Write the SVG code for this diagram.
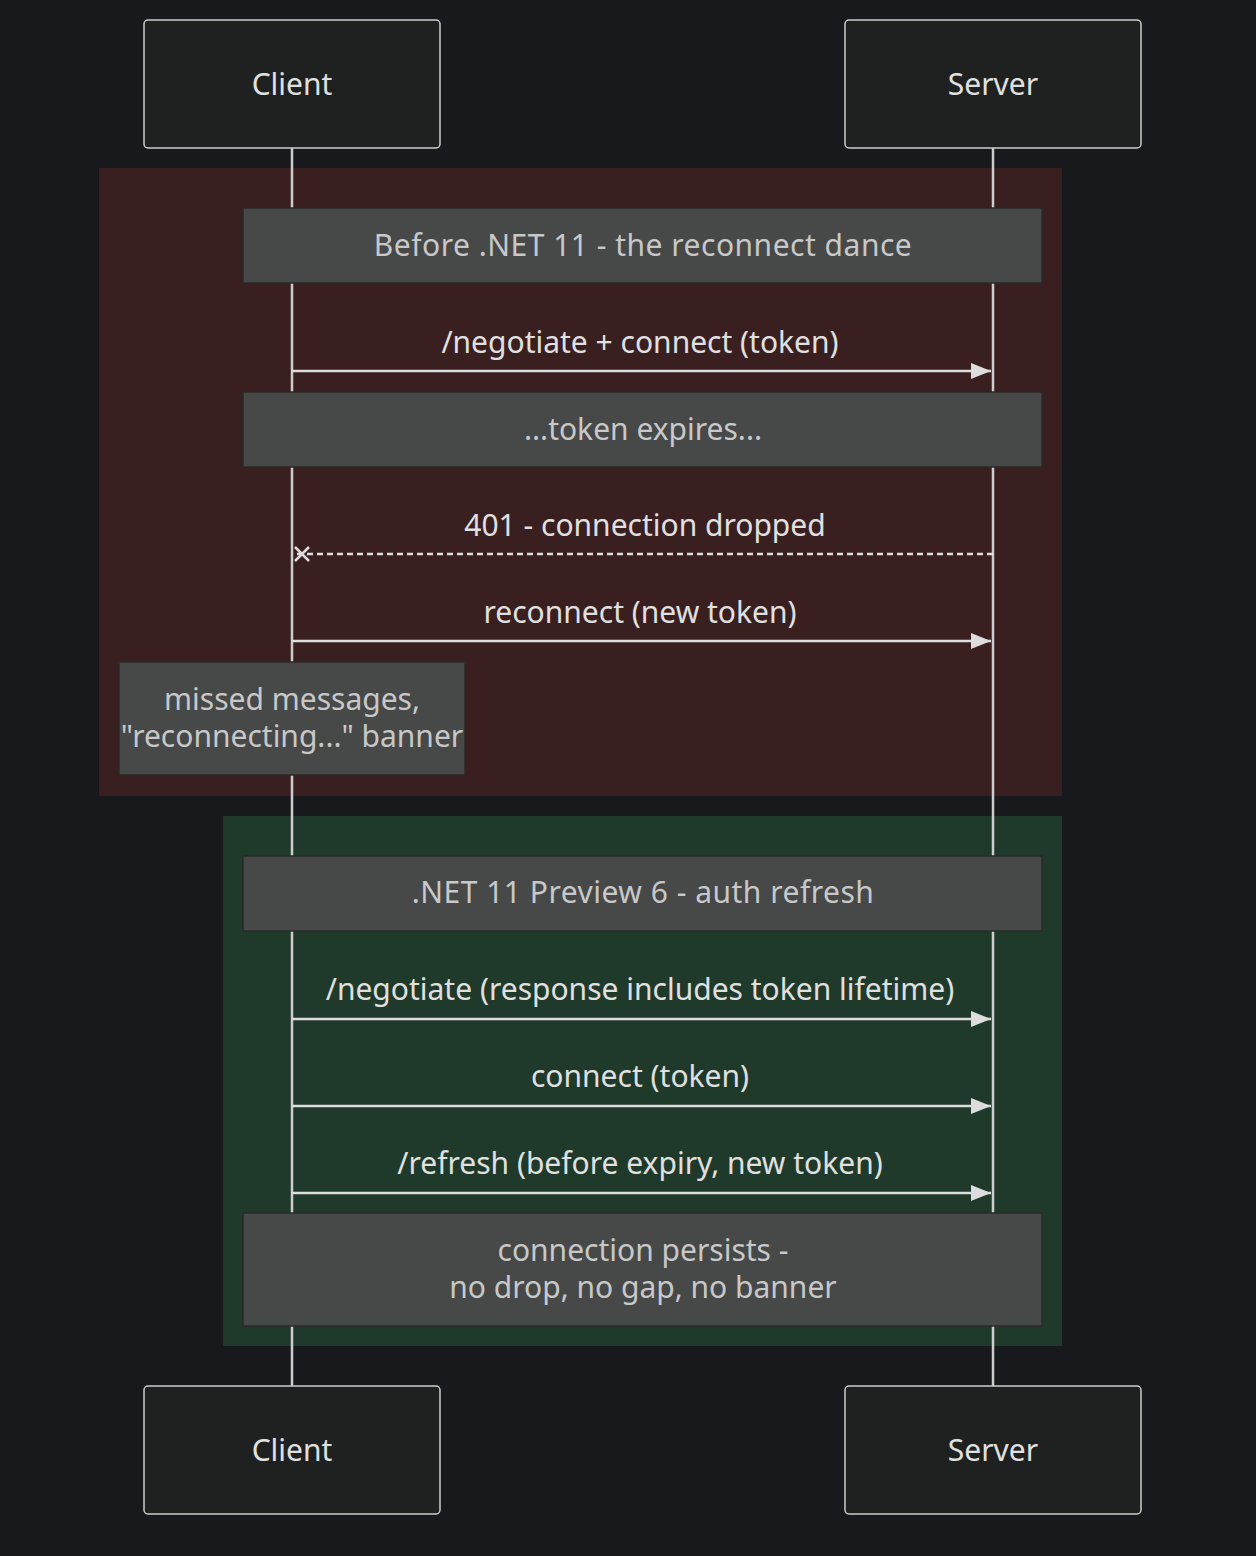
<svg xmlns="http://www.w3.org/2000/svg" width="1256" height="1556" viewBox="0 0 1256 1556">
<style>
.actor rect{fill:#1f2020;stroke:#cccccc;stroke-width:1.5}
.t{font-family:"Noto Sans","Open Sans",sans-serif;font-size:30px;fill:#e0e0e0;text-anchor:middle}
.nt{font-family:"Noto Sans","Open Sans",sans-serif;font-size:30px;fill:#c8c8c8;text-anchor:middle}
.note rect{fill:#474949;stroke:#2a2a2a;stroke-width:1.5}
.life{stroke:#cccccc;stroke-width:2.5}
.msg{stroke:#dddddd;stroke-width:2.5;fill:none}
</style>
<defs>
<marker id="ah" viewBox="0 0 20 16" refX="20" refY="8" markerWidth="20" markerHeight="16" markerUnits="userSpaceOnUse" orient="auto"><path d="M0,0L20,8L0,16z" fill="#dddddd"/></marker>
</defs>
<rect width="1256" height="1556" fill="#18191d"/>
<rect x="99" y="168" width="963" height="628" fill="#3a1f20"/>
<rect x="223" y="816" width="839" height="530" fill="#1f3a2a"/>
<g id="lifelines">
<line class="life" x1="292" y1="148" x2="292" y2="1386"/>
<line class="life" x1="993" y1="148" x2="993" y2="1386"/>
</g>
<g id="client-top" class="actor"><rect x="144" y="20" width="296" height="128" rx="4"/><text class="t" x="292" y="95">Client</text></g>
<g id="server-top" class="actor"><rect x="845" y="20" width="296" height="128" rx="4"/><text class="t" x="993" y="95">Server</text></g>
<g id="client-bottom" class="actor"><rect x="144" y="1386" width="296" height="128" rx="4"/><text class="t" x="292" y="1461">Client</text></g>
<g id="server-bottom" class="actor"><rect x="845" y="1386" width="296" height="128" rx="4"/><text class="t" x="993" y="1461">Server</text></g>
<g id="note1" class="note"><rect x="243" y="208" width="799" height="75"/><text class="nt" x="643" y="256" letter-spacing="0.5">Before .NET 11 - the reconnect dance</text></g>
<g id="note2" class="note"><rect x="243" y="392" width="799" height="75"/><text class="nt" x="643" y="440">...token expires...</text></g>
<g id="note3" class="note"><rect x="119" y="662" width="346" height="113"/><text class="nt" x="292" y="710">missed messages,</text><text class="nt" x="292" y="747">"reconnecting..." banner</text></g>
<g id="note4" class="note"><rect x="243" y="856" width="799" height="75"/><text class="nt" x="643" y="903" letter-spacing="0.5">.NET 11 Preview 6 - auth refresh</text></g>
<g id="note5" class="note"><rect x="243" y="1213" width="799" height="113"/><text class="nt" x="643" y="1261">connection persists -</text><text class="nt" x="643" y="1298">no drop, no gap, no banner</text></g>
<g id="connectors">
<line class="msg" x1="292" y1="371" x2="991" y2="371" marker-end="url(#ah)"/>
<text class="t" x="640" y="353">/negotiate + connect (token)</text>
<line class="msg" x1="993" y1="554" x2="296" y2="554" stroke-dasharray="6,4"/>
<path class="msg" d="M295,547l14,14M309,547l-14,14"/>
<text class="t" x="645" y="536">401 - connection dropped</text>
<line class="msg" x1="292" y1="641" x2="991" y2="641" marker-end="url(#ah)"/>
<text class="t" x="640" y="623">reconnect (new token)</text>
<line class="msg" x1="292" y1="1019" x2="991" y2="1019" marker-end="url(#ah)"/>
<text class="t" x="640" y="1000">/negotiate (response includes token lifetime)</text>
<line class="msg" x1="292" y1="1106" x2="991" y2="1106" marker-end="url(#ah)"/>
<text class="t" x="640" y="1087">connect (token)</text>
<line class="msg" x1="292" y1="1193" x2="991" y2="1193" marker-end="url(#ah)"/>
<text class="t" x="640" y="1174">/refresh (before expiry, new token)</text>
</g>
</svg>
